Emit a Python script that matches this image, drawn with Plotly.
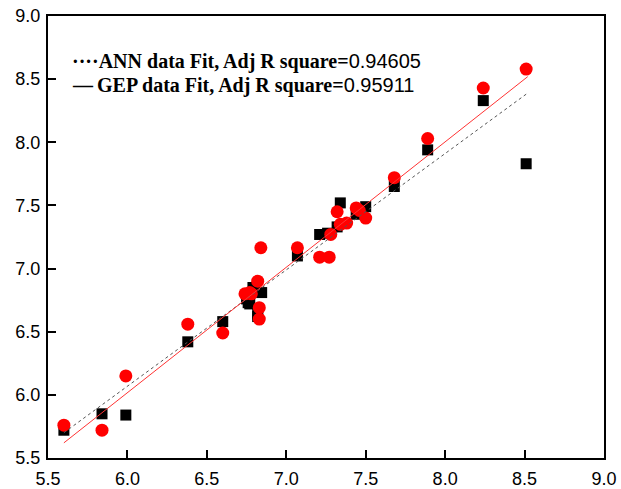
import plotly.graph_objects as go

# ANN predictions (black squares)
ann_x = [5.60, 5.84, 5.99, 6.38, 6.60, 6.75, 6.76, 6.77, 6.79, 6.82, 6.82, 6.845,
         7.07, 7.21, 7.26, 7.32, 7.34, 7.44, 7.50, 7.68, 7.89, 8.24, 8.51]
ann_y = [5.72, 5.85, 5.84, 6.42, 6.58, 6.76, 6.73, 6.72, 6.85, 6.64, 6.62, 6.81,
         7.10, 7.27, 7.28, 7.33, 7.52, 7.43, 7.49, 7.65, 7.94, 8.33, 7.83]

# GEP predictions (red circles)
gep_x = [5.60, 5.84, 5.99, 6.38, 6.60, 6.74, 6.77, 6.78, 6.82, 6.83, 6.83, 6.84,
         7.07, 7.21, 7.27, 7.28, 7.32, 7.34, 7.38, 7.44, 7.46, 7.50, 7.68, 7.89, 8.24, 8.51]
gep_y = [5.76, 5.72, 6.15, 6.56, 6.49, 6.80, 6.81, 6.80, 6.90, 6.69, 6.60, 7.165,
         7.165, 7.09, 7.09, 7.27, 7.45, 7.35, 7.36, 7.48, 7.46, 7.40, 7.72, 8.03, 8.43, 8.58]

# Fit lines (end points)
ann_fit_x = [5.60, 8.52]
ann_fit_y = [5.70, 8.39]
gep_fit_x = [5.60, 8.52]
gep_fit_y = [5.62, 8.52]

tick_vals = [5.5, 6.0, 6.5, 7.0, 7.5, 8.0, 8.5, 9.0]
tick_text = ["5.5", "6.0", "6.5", "7.0", "7.5", "8.0", "8.5", "9.0"]

legend_lines = [
    ("····", "ANN data Fit, Adj R square=", "0.94605"),
    ("—\u2009", "GEP data Fit, Adj R square=", "0.95911"),
]

fig = go.Figure()
fig.add_trace(go.Scatter(x=ann_x, y=ann_y, mode="markers",
                         marker=dict(symbol="square", size=11, color="#000000", line=dict(width=0)),
                         showlegend=False))
fig.add_trace(go.Scatter(x=gep_x, y=gep_y, mode="markers",
                         marker=dict(symbol="circle", size=13, color="#ff0000", line=dict(width=0)),
                         showlegend=False))
fig.add_trace(go.Scatter(x=ann_fit_x, y=ann_fit_y, mode="lines",
                         line=dict(color="#555555", width=1, dash="dot"), showlegend=False))
fig.add_trace(go.Scatter(x=gep_fit_x, y=gep_fit_y, mode="lines",
                         line=dict(color="#ff3333", width=1), showlegend=False))

for i, (sym, label, val) in enumerate(legend_lines):
    fig.add_annotation(
        xref="paper", yref="paper", x=0.040, y=0.897 - i * 0.055,
        xanchor="left", yanchor="middle", showarrow=False,
        text=(f"<b>{sym}{label}</b>"
              f"<span style=\"font-family:'Liberation Sans', Arial, sans-serif\">{val}</span>"),
        font=dict(family="Liberation Serif, Times New Roman, serif", size=20, color="#000000"),
    )

axis_common = dict(
    showline=True, linewidth=2, linecolor="#000000", mirror=True,
    ticks="inside", ticklen=8, tickwidth=2, tickcolor="#000000",
    showgrid=False, zeroline=False, automargin=False,
    tickvals=tick_vals, ticktext=tick_text,
    tickfont=dict(family="Liberation Sans, Arial, sans-serif", size=18, color="#000000"),
)
fig.update_xaxes(range=[5.5, 9.0], ticklabelstandoff=3, **axis_common)
fig.update_yaxes(range=[5.5, 9.0], ticklabelstandoff=2, **axis_common)

fig.update_layout(
    width=621, height=489,
    margin=dict(l=48, r=17, t=16, b=31),
    plot_bgcolor="#ffffff", paper_bgcolor="#ffffff",
)

fig.write_html("out.html")
